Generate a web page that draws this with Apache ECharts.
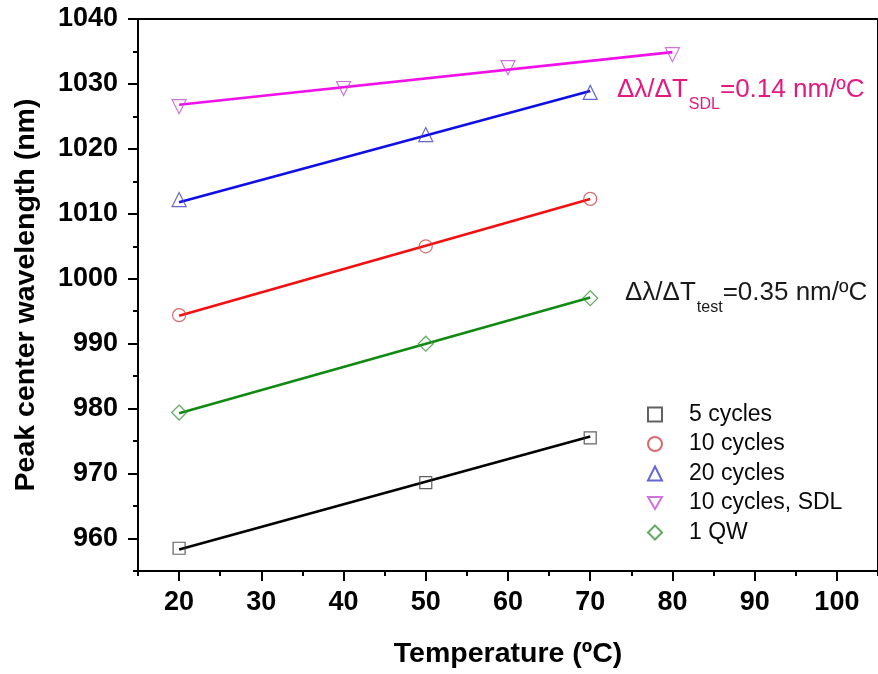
<!DOCTYPE html>
<html>
<head>
<meta charset="utf-8">
<script src="https://cdn.jsdelivr.net/npm/echarts@6/dist/echarts.min.js"></script>
<style>
  html, body { margin: 0; padding: 0; background: #fff; }
  #chart { width: 878px; height: 674px; }
</style>
</head>
<body>
<div id="chart"></div>
<script>
// Measured peak positions (nm) versus temperature (ºC)
const temps = [20, 50, 70];
const tempsSDL = [20, 40, 60, 80];
const cycles5 = [958.5, 968.6, 975.5];
const cycles10 = [994.4, 1005.0, 1012.3];
const cycles20 = [1012.2, 1022.2, 1028.7];
const cycles10SDL = [1026.5, 1029.3, 1032.5, 1034.5];
const qw1 = [979.4, 990.0, 997.0];

// Linear fit end points for each set
const fitTemps = [20, 70];
const fitTempsSDL = [20, 80];
const fit5 = [958.3, 975.7];
const fit10 = [994.3, 1012.3];
const fit20 = [1011.8, 1028.9];
const fitSDL = [1026.8, 1034.9];
const fitQW = [979.3, 997.1];

// Axis tick labels
const xLabels = [20, 30, 40, 50, 60, 70, 80, 90, 100];
const yLabels = [960, 970, 980, 990, 1000, 1010, 1020, 1030, 1040];

const legendNames = ['5 cycles', '10 cycles', '20 cycles', '10 cycles, SDL', '1 QW'];

const FONT = "'Liberation Sans', Arial, Helvetica, sans-serif";

function pairs(xs, ys) { return xs.map((x, i) => [x, ys[i]]); }

const chart = echarts.init(document.getElementById('chart'), null, { renderer: 'canvas' });

function scatter(name, xs, ys, symbol, color, size, rotate) {
  return {
    name: name, type: 'scatter', data: pairs(xs, ys),
    symbol: symbol, symbolSize: size, symbolRotate: rotate || 0,
    itemStyle: { color: 'rgba(0,0,0,0)', borderColor: color, borderWidth: 1.2 },
    z: 5, silent: true
  };
}
function fitLine(xs, ys, color) {
  return {
    type: 'line', data: pairs(xs, ys), symbol: 'none', silent: true,
    lineStyle: { color: color, width: 2.6 }, z: 3
  };
}

// Subscripted annotation: main text, subscript, remainder
const measureCtx = document.createElement('canvas').getContext('2d');
function textWidth(str, size) {
  measureCtx.font = size + 'px ' + FONT;
  return measureCtx.measureText(str).width;
}
function annotation(x, baseline, color, sub, rest) {
  const mainSize = 26, subSize = 16;
  const head = 'Δλ/ΔT';
  const w1 = textWidth(head, mainSize);
  const w2 = textWidth(sub, subSize);
  const parts = [
    { text: head, x: x, y: baseline, size: mainSize },
    { text: sub, x: x + w1 + 1, y: baseline + 10, size: subSize },
    { text: rest, x: x + w1 + w2 + 1, y: baseline, size: mainSize }
  ];
  return parts.map(p => ({
    type: 'text', x: p.x, y: p.y, silent: true,
    style: {
      text: p.text, fill: color, font: p.size + 'px ' + FONT,
      textAlign: 'left', textVerticalAlign: 'bottom'
    }
  }));
}

const axisFont = { fontFamily: FONT, fontWeight: 'bold', fontSize: 27, color: '#000' };
const plainNumber = v => String(v);

const option = {
  backgroundColor: '#fff',
  animation: false,
  grid: {
    left: 138, top: 19, width: 750, height: 554,
    show: true, borderColor: '#000', borderWidth: 2, backgroundColor: 'transparent'
  },
  legend: {
    orient: 'vertical', left: 642, top: 398,
    itemWidth: 14, itemHeight: 14, itemGap: 6.5,
    data: legendNames.map(n => n === '10 cycles, SDL'
      ? { name: n, icon: 'path://M0,0L12,0L6,10.4Z' }
      : { name: n }),
    textStyle: { fontFamily: FONT, fontSize: 23, lineHeight: 23, color: '#0a0a0a', padding: [0, 0, 0, 22] },
    selectedMode: false
  },
  xAxis: [
    {
      type: 'value', min: 15, max: 105, interval: 5,
      name: 'Temperature (ºC)', nameLocation: 'middle', nameGap: 69,
      nameTextStyle: { fontFamily: FONT, fontWeight: 'bold', fontSize: 28.5, color: '#000' },
      axisLine: { show: true, lineStyle: { color: '#000', width: 2 } },
      axisTick: { show: true, inside: false, length: 5, lineStyle: { color: '#000', width: 2 } },
      axisLabel: Object.assign({ margin: 18, customValues: xLabels, formatter: plainNumber }, axisFont),
      splitLine: { show: false }
    },
    {
      type: 'value', min: 15, max: 105, interval: 5, position: 'bottom',
      axisLine: { show: false },
      axisTick: { show: true, inside: false, length: 10, customValues: xLabels, lineStyle: { color: '#000', width: 2 } },
      axisLabel: { show: false },
      splitLine: { show: false }
    }
  ],
  yAxis: [
    {
      type: 'value', min: 955, max: 1040, interval: 5,
      name: 'Peak center wavelength (nm)', nameLocation: 'middle', nameGap: 97,
      nameTextStyle: { fontFamily: FONT, fontWeight: 'bold', fontSize: 28.5, color: '#000' },
      axisLine: { show: true, lineStyle: { color: '#000', width: 2 } },
      axisTick: { show: true, inside: false, length: 5, lineStyle: { color: '#000', width: 2 } },
      axisLabel: Object.assign({ margin: 20, customValues: yLabels, formatter: plainNumber }, axisFont),
      splitLine: { show: false }
    },
    {
      type: 'value', min: 955, max: 1040, interval: 5, position: 'left',
      axisLine: { show: false },
      axisTick: { show: true, inside: false, length: 10, customValues: yLabels, lineStyle: { color: '#000', width: 2 } },
      axisLabel: { show: false },
      splitLine: { show: false }
    }
  ],
  series: [
    fitLine(fitTemps, fit5, '#000000'),
    fitLine(fitTemps, fit10, '#f21010'),
    fitLine(fitTemps, fit20, '#1010e6'),
    fitLine(fitTempsSDL, fitSDL, '#f010e8'),
    fitLine(fitTemps, fitQW, '#108a10'),
    scatter('5 cycles', temps, cycles5, 'rect', '#3a3a3a', 12),
    scatter('10 cycles', temps, cycles10, 'circle', '#c84848', 13),
    scatter('20 cycles', temps, cycles20, 'triangle', '#4040c8', 14),
    scatter('10 cycles, SDL', tempsSDL, cycles10SDL, 'triangle', '#c050d0', 14, 180),
    scatter('1 QW', temps, qw1, 'diamond', '#3c963c', 15)
  ],
  graphic: [].concat(
    annotation(617, 103, '#e3197f', 'SDL', '=0.14 nm/ºC'),
    annotation(625, 306, '#1a1a1a', 'test', '=0.35 nm/ºC')
  )
};

chart.setOption(option);
</script>
</body>
</html>
